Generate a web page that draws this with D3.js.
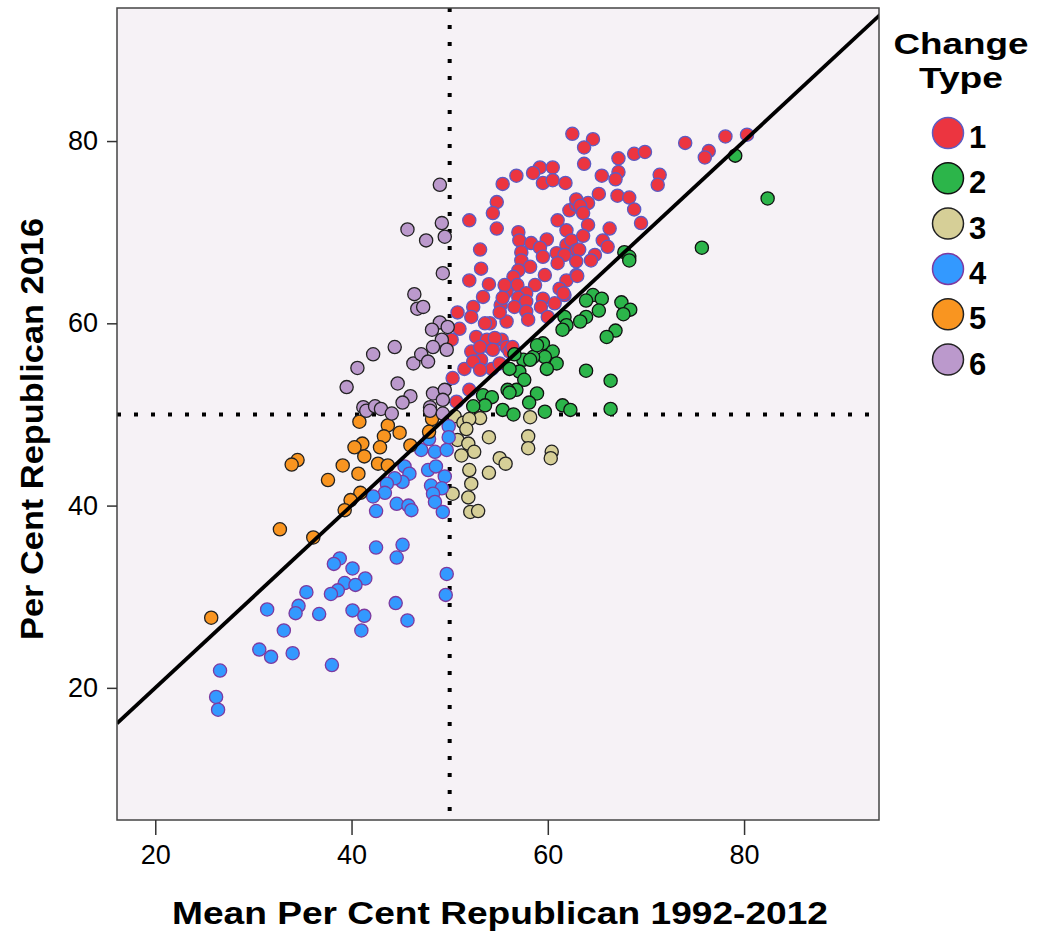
<!DOCTYPE html>
<html lang="en">
<head>
<meta charset="utf-8">
<title>Change type scatter</title>
<script src="https://cdn.jsdelivr.net/npm/d3@7"></script>
<style>
  body { margin: 0; background: #fff; }
  svg text { font-family: "Liberation Sans", Arial, sans-serif; fill: #000; }
  .axis text { font-size: 27px; }
  .axis line { stroke: #333; stroke-width: 1.5; }
  .title { font-weight: bold; }
</style>
</head>
<body>
<script>
// [mean % Republican 1992-2012, % Republican 2016]
var type1 = [
  [52.0,71.3],[52.0,64.7],[50.8,61.2],[52.4,61.8],[52.2,60.7],[51.0,59.4],[52.7,58.5],[50.2,58.2],
  [52.2,56.9],[51.5,55.0],[50.3,54.0],[52.0,52.7],[50.7,51.4],[59.2,77.1],[60.5,77.1],[58.5,76.5],
  [59.5,75.4],[60.5,75.7],[61.8,75.4],[56.8,76.2],[55.4,75.3],[54.8,73.3],[54.4,72.1],[54.8,70.4],
  [57.0,70.0],[62.2,72.4],[61.0,71.3],[61.9,70.2],[62.9,73.0],[57.1,69.1],[58.3,68.8],[59.9,69.2],
  [59.2,68.3],[61.9,68.6],[62.4,69.1],[62.9,68.0],[53.1,68.1],[57.3,67.8],[57.3,66.9],[59.5,67.3],
  [60.9,67.7],[61.7,67.5],[58.2,66.2],[57.0,65.8],[53.2,66.0],[61.0,66.6],[59.7,65.3],[62.9,65.3],
  [54.0,64.3],[56.5,65.1],[56.9,64.2],[58.7,64.2],[61.9,64.7],[61.2,63.8],[55.8,63.5],[57.8,63.3],
  [57.0,62.8],[61.7,63.1],[53.4,62.9],[59.5,62.7],[57.8,62.4],[55.2,62.0],[56.6,61.8],[59.3,61.8],
  [60.7,62.2],[57.8,61.3],[54.1,60.0],[53.6,60.0],[55.8,60.2],[58.0,60.4],[60.0,60.7],[55.3,58.2],
  [55.8,57.4],[54.1,57.4],[56.1,56.9],[53.2,56.0],[52.4,55.8],[54.3,55.0],[53.1,54.9],[62.5,80.8],
  [64.6,80.2],[63.7,79.3],[74.0,79.8],[68.8,78.6],[69.9,78.8],[67.2,78.1],[63.7,77.5],[65.5,76.2],
  [67.2,76.6],[66.9,75.8],[71.4,76.3],[71.2,75.2],[65.2,74.2],[67.1,74.0],[68.3,73.8],[62.9,73.6],
  [64.1,73.2],[63.3,72.9],[68.8,72.5],[63.6,72.1],[64.1,70.8],[69.5,71.0],[66.3,70.4],[63.6,69.6],
  [65.6,69.1],[66.1,68.4],[63.2,68.1],[64.8,67.5],[64.4,66.9],[62.9,66.8],[63.0,65.2],[61.6,63.3],
  [78.1,80.5],[80.3,80.7],[76.4,78.9],[76.0,78.2],[55.6,64.2],[55.4,62.8],[55.1,61.2],[53.8,58.2],
  [54.6,58.4],[53.1,57.4],[54.4,57.1],[56.4,57.4],[55.1,55.6]
];
var type2 = [
  [61.7,60.7],[61.9,59.8],[61.5,59.3],[59.5,57.8],[60.5,56.9],[59.7,56.3],[58.5,56.3],[57.5,56.0],
  [60.9,55.6],[59.9,55.0],[57.1,54.7],[56.1,55.0],[57.6,53.8],[56.8,52.7],[67.8,67.8],[68.3,67.3],
  [68.3,66.9],[64.6,63.1],[65.5,62.7],[63.9,62.5],[65.2,61.4],[67.5,62.3],[68.4,61.5],[67.7,61.0],
  [63.9,60.7],[79.1,78.4],[82.4,73.7],[75.7,68.3],[63.3,60.2],[66.9,59.2],[66.0,58.5],[58.9,57.6],
  [58.2,56.0],[56.6,56.6],[63.9,54.8],[66.4,53.7],[55.9,52.7],[58.9,52.3],[58.1,51.3],[53.4,52.1],
  [54.3,51.9],[53.6,51.0],[55.4,50.5],[56.5,50.0],[59.7,50.3],[61.5,51.0],[62.3,50.5],[66.4,50.6],
  [56.1,52.4],[52.4,50.9]
];
var type3 = [
  [58.2,49.7],[53.1,49.6],[54.0,47.5],[58.0,47.6],[58.0,46.3],[55.1,45.2],[55.7,44.6],[60.4,45.9],
  [60.3,45.2],[50.5,49.8],[51.4,49.1],[52.0,49.5],[51.7,48.4],[50.8,47.2],[51.9,46.8],[52.5,45.9],
  [51.2,45.5],[54.0,43.6],[52.0,43.9],[52.2,42.4],[50.3,41.3],[51.9,40.9],[52.1,39.3],[52.9,39.4]
];
var type4 = [
  [38.8,34.2],[38.2,33.6],[40.1,33.1],[39.3,31.5],[41.4,32.0],[40.4,31.3],[38.6,30.7],[37.9,30.3],
  [35.4,30.5],[34.6,29.0],[34.3,28.2],[31.4,28.6],[36.7,28.1],[40.1,28.5],[41.3,27.9],[41.0,26.3],
  [33.1,26.3],[30.6,24.2],[31.8,23.4],[34.0,23.8],[38.0,22.5],[26.6,21.9],[26.2,19.0],[26.4,17.6],
  [45.4,44.3],[45.9,43.5],[45.2,42.6],[44.4,43.0],[43.6,42.4],[43.4,41.4],[42.2,41.0],[44.6,40.2],
  [45.8,40.0],[46.1,39.5],[42.5,39.4],[49.9,48.7],[49.9,47.5],[47.9,47.3],[47.1,46.1],[48.5,45.9],
  [49.7,46.1],[47.8,43.9],[48.6,44.3],[49.5,43.2],[48.1,42.2],[49.2,41.9],[48.3,41.3],[48.5,40.4],
  [49.3,39.3],[45.2,35.7],[49.7,32.5],[49.6,30.2],[42.5,35.4],[44.6,34.3],[44.5,29.3],[45.7,27.4]
];
var type5 = [
  [32.7,37.4],[36.1,36.5],[25.7,27.7],[40.8,49.2],[43.7,48.8],[44.9,48.0],[43.3,47.6],[41.1,46.8],
  [40.3,46.4],[42.9,46.4],[46.0,46.6],[41.3,45.4],[42.7,44.6],[43.7,44.4],[34.5,45.0],[33.9,44.5],
  [39.1,44.4],[40.7,43.5],[37.6,42.8],[40.9,41.4],[39.9,40.6],[39.3,39.5],[48.2,49.5],[47.9,48.1]
];
var type6 = [
  [44.4,57.4],[42.2,56.6],[40.6,55.1],[46.3,55.6],[44.7,53.4],[39.5,53.0],[46.0,52.0],[45.2,51.3],
  [41.2,50.8],[41.5,50.4],[42.4,50.9],[43.0,50.6],[44.1,50.1],[49.0,75.2],[45.7,70.3],[49.2,71.0],
  [49.5,69.5],[47.6,69.1],[49.3,65.5],[46.4,63.2],[46.7,61.6],[47.3,61.8],[49.0,60.1],[49.8,59.6],
  [48.2,59.3],[49.2,58.2],[49.7,57.1],[47.1,56.6],[47.8,55.8],[48.3,57.4],[48.3,52.3],[49.5,52.7],
  [49.3,51.6],[48.0,50.8],[48.0,50.4],[49.3,50.1]
];

var changeTypes = ["1", "2", "3", "4", "5", "6"];
var typeData = [type1, type2, type3, type4, type5, type6];
var fills = ["#ec3540", "#2cb54a", "#d6cf97", "#3399ff", "#f99520", "#bb99cc"];
var strokes = ["#5c5cc4", "#111", "#222", "#7d3aa0", "#222", "#222"];
var xTicks = [20, 40, 60, 80];
var yTicks = [20, 40, 60, 80];

var w = 1037, h = 934;
var pLeft = 117, pRight = 879, pTop = 8, pBottom = 820;

var svg = d3.select("body").append("svg")
  .attr("width", w)
  .attr("height", h);

var x = d3.scaleLinear().domain([16.1, 93.75]).range([pLeft, pRight]);
var y = d3.scaleLinear().domain([5.5, 94.6]).range([pBottom, pTop]);

svg.append("defs").append("clipPath").attr("id", "plotclip")
  .append("rect")
  .attr("x", pLeft).attr("y", pTop)
  .attr("width", pRight - pLeft).attr("height", pBottom - pTop);

svg.append("rect")
  .attr("x", pLeft).attr("y", pTop)
  .attr("width", pRight - pLeft).attr("height", pBottom - pTop)
  .attr("fill", "#f6f2f6");

var plot = svg.append("g").attr("clip-path", "url(#plotclip)");

// reference lines at 50%
plot.append("line")
  .attr("x1", x(50)).attr("x2", x(50))
  .attr("y1", pTop).attr("y2", pBottom)
  .attr("stroke", "#000").attr("stroke-width", 4)
  .attr("stroke-dasharray", "4 13");
plot.append("line")
  .attr("x1", pLeft).attr("x2", pRight)
  .attr("y1", y(50)).attr("y2", y(50))
  .attr("stroke", "#000").attr("stroke-width", 4)
  .attr("stroke-dasharray", "4 13");

// points
typeData.forEach(function(set, i) {
  plot.append("g").selectAll("circle")
    .data(set)
    .enter()
    .append("circle")
    .attr("cx", function(d) { return x(d[0]); })
    .attr("cy", function(d) { return y(d[1]); })
    .attr("r", 6.6)
    .attr("fill", fills[i])
    .attr("stroke", strokes[i])
    .attr("stroke-width", 1.3);
});

// y = x line
plot.append("line")
  .attr("x1", x(16.1)).attr("y1", y(16.1))
  .attr("x2", x(94.6)).attr("y2", y(94.6))
  .attr("stroke", "#000").attr("stroke-width", 3.8);

svg.append("rect")
  .attr("x", pLeft).attr("y", pTop)
  .attr("width", pRight - pLeft).attr("height", pBottom - pTop)
  .attr("fill", "none")
  .attr("stroke", "#444")
  .attr("stroke-width", 1.5);

var xAxis = d3.axisBottom(x).tickValues(xTicks).tickSize(15).tickPadding(10);
var yAxis = d3.axisLeft(y).tickValues(yTicks).tickSize(10).tickPadding(9);

var gx = svg.append("g").attr("class", "axis")
  .attr("transform", "translate(0," + pBottom + ")")
  .call(xAxis);
gx.select(".domain").remove();
gx.selectAll("text").attr("font-size", null);

var gy = svg.append("g").attr("class", "axis")
  .attr("transform", "translate(" + pLeft + ",0)")
  .call(yAxis);
gy.select(".domain").remove();
gy.selectAll("text").attr("font-size", null);

svg.append("text")
  .attr("class", "title")
  .attr("x", 500)
  .attr("y", 924)
  .attr("text-anchor", "middle")
  .attr("font-size", "32px")
  .attr("textLength", 656)
  .attr("lengthAdjust", "spacingAndGlyphs")
  .text("Mean Per Cent Republican 1992-2012");

svg.append("text")
  .attr("class", "title")
  .attr("transform", "translate(43,429) rotate(-90)")
  .attr("text-anchor", "middle")
  .attr("font-size", "32px")
  .attr("textLength", 422)
  .attr("lengthAdjust", "spacingAndGlyphs")
  .text("Per Cent Republican 2016");

// legend
var legend = svg.append("g");
legend.append("text")
  .attr("class", "title")
  .attr("x", 961).attr("y", 54)
  .attr("text-anchor", "middle")
  .attr("font-size", "30px")
  .attr("textLength", 135)
  .attr("lengthAdjust", "spacingAndGlyphs")
  .text("Change");
legend.append("text")
  .attr("class", "title")
  .attr("x", 961).attr("y", 88)
  .attr("text-anchor", "middle")
  .attr("font-size", "30px")
  .attr("textLength", 84)
  .attr("lengthAdjust", "spacingAndGlyphs")
  .text("Type");

var items = legend.selectAll("g.item")
  .data(changeTypes)
  .enter()
  .append("g")
  .attr("class", "item")
  .attr("transform", function(d, i) { return "translate(948," + (133 + i * 45.3) + ")"; });
items.append("circle")
  .attr("r", 15.5)
  .attr("fill", function(d, i) { return fills[i]; })
  .attr("stroke", function(d, i) { return strokes[i]; })
  .attr("stroke-width", 1.5);
items.append("text")
  .attr("class", "title")
  .attr("x", 21)
  .attr("y", 15)
  .attr("font-size", "31px")
  .text(function(d) { return d; });
</script>
</body>
</html>
